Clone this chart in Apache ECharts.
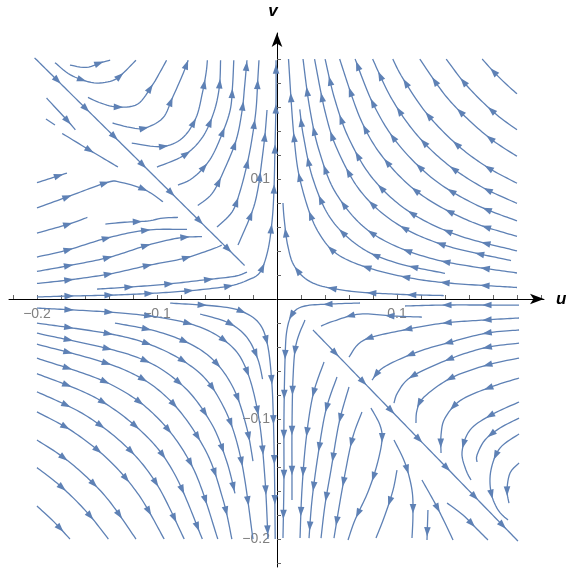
<!DOCTYPE html>
<html><head><meta charset="utf-8">
<script src="https://cdn.jsdelivr.net/npm/echarts@6/dist/echarts.min.js"></script>
<style>html,body{margin:0;padding:0;background:#fff}#c{width:568px;height:571px}</style>
</head><body><div id="c"></div>
<script>
// ---- tick values / labels ----
const xTickValues = [-0.22,-0.2,-0.18,-0.16,-0.14,-0.12,-0.1,-0.08,-0.06,-0.04,-0.02,0.02,0.04,0.06,0.08,0.1,0.12,0.14,0.16,0.18,0.2,0.22];
const yTickValues = [-0.22,-0.2,-0.18,-0.16,-0.14,-0.12,-0.1,-0.08,-0.06,-0.04,-0.02,0.02,0.04,0.06,0.08,0.1,0.12,0.14,0.16,0.18,0.2];
const xLabelValues = [-0.2,-0.1,0.1];
const yLabelValues = [0.1,-0.1,-0.2];

// ---- streamlines (u, v) ----
const streamsTopLeft = [
  [[-0.202,0.201],[-0.1145,0.1145],[-0.027,0.028]],
  [[-0.1725,0.195],[-0.159,0.193],[-0.1467,0.197],[-0.139,0.199]],
  [[-0.185,0.197],[-0.174,0.188],[-0.162,0.1825],[-0.15,0.18],[-0.137,0.182],[-0.129,0.1875],[-0.1175,0.199]],
  [[-0.1575,0.168],[-0.146,0.163],[-0.1325,0.16],[-0.116,0.1625],[-0.104,0.178],[-0.0975,0.189],[-0.092,0.199]],
  [[-0.137,0.1467],[-0.1225,0.143],[-0.11,0.1425],[-0.095,0.151],[-0.087,0.168],[-0.079,0.186],[-0.074,0.199]],
  [[-0.121,0.13],[-0.096,0.127],[-0.079,0.134],[-0.0675,0.151],[-0.062,0.1725],[-0.059,0.189],[-0.058,0.199]],
  [[-0.1,0.11],[-0.077,0.12],[-0.062,0.135],[-0.0525,0.156],[-0.048,0.177],[-0.047,0.199]],
  [[-0.0825,0.095],[-0.07,0.101],[-0.056,0.116],[-0.046,0.137],[-0.039,0.1575],[-0.037,0.178],[-0.036,0.199]],
  [[-0.066,0.078],[-0.054,0.088],[-0.044,0.1075],[-0.034,0.1325],[-0.029,0.1575],[-0.027,0.177],[-0.025,0.199]],
  [[-0.05,0.06],[-0.0375,0.0725],[-0.031,0.089],[-0.025,0.112],[-0.021,0.1325],[-0.0175,0.1575],[-0.016,0.1825],[-0.015,0.199]],
  [[-0.0325,0.045],[-0.021,0.072],[-0.016,0.091],[-0.0125,0.116],[-0.01,0.137],[-0.0083,0.1575]],
  [[-0.2,0.0017],[-0.175,0.0025],[-0.137,0.0033],[-0.1,0.005],[-0.0667,0.0075],[-0.039,0.011],[-0.024,0.016],[-0.014,0.0225],[-0.0075,0.041],[-0.004,0.066],[-0.0025,0.091],[-0.0017,0.124],[-0.0008,0.166],[-0.0008,0.199]],
  [[-0.192,0.1675],[-0.174,0.148],[-0.168,0.141]],
  [[-0.1925,0.15],[-0.185,0.145]],
  [[-0.179,0.138],[-0.156,0.124],[-0.1325,0.11]],
  [[-0.2,0.097],[-0.175,0.105]],
  [[-0.2,0.076],[-0.175,0.085],[-0.142,0.097],[-0.131,0.0975],[-0.11,0.091],[-0.095,0.081]],
  [[-0.2,0.055],[-0.175,0.062],[-0.158,0.068]],
  [[-0.143,0.0625],[-0.127,0.064],[-0.108,0.065],[-0.095,0.0675],[-0.0825,0.068]],
  [[-0.2,0.035],[-0.174,0.041],[-0.141,0.051],[-0.108,0.0575],[-0.075,0.058]],
  [[-0.2,0.023],[-0.1725,0.028],[-0.139,0.035],[-0.1075,0.045],[-0.081,0.051],[-0.0625,0.052]],
  [[-0.2,0.013],[-0.1725,0.016],[-0.139,0.021],[-0.1075,0.028],[-0.077,0.034],[-0.053,0.042],[-0.046,0.045]],
  [[-0.15,0.0083],[-0.1225,0.01],[-0.091,0.0125],[-0.06,0.016],[-0.035,0.019],[-0.025,0.0225]]
];

const streamsTopRight = [
  [[0.2,0.171],[0.19,0.18],[0.18,0.19],[0.171,0.2]],
  [[0.2,0.141],[0.185,0.152],[0.17,0.1655],[0.155,0.1815],[0.141,0.2]],
  [[0.2,0.119],[0.18,0.132],[0.16,0.149],[0.14,0.17],[0.119,0.2]],
  [[0.2,0.0965],[0.175,0.11],[0.15,0.1286],[0.125,0.1543],[0.105,0.1837],[0.0965,0.2]],
  [[0.2,0.0797],[0.17,0.0938],[0.14,0.1139],[0.115,0.1387],[0.095,0.1679],[0.0797,0.2]],
  [[0.2,0.0651],[0.165,0.079],[0.13,0.1002],[0.1,0.1303],[0.08,0.1629],[0.0651,0.2]],
  [[0.2,0.0522],[0.16,0.0652],[0.12,0.087],[0.09,0.116],[0.07,0.1491],[0.0522,0.2]],
  [[0.2,0.0401],[0.15,0.0534],[0.11,0.0729],[0.08,0.1002],[0.06,0.1336],[0.048,0.167],[0.0401,0.2]],
  [[0.195,0.0321],[0.14,0.0447],[0.1,0.0626],[0.07,0.0894],[0.05,0.1252],[0.04,0.1565],[0.0313,0.2]],
  [[0.2,0.0217],[0.13,0.0334],[0.08,0.0543],[0.05,0.0868],[0.035,0.124],[0.027,0.1607],[0.0217,0.2]],
  [[0.2,0.0096],[0.12,0.016],[0.06,0.032],[0.035,0.0549],[0.02,0.096],[0.014,0.137],[0.0096,0.2]],
  [[0.14,0.0214],[0.1,0.03],[0.07,0.0429],[0.045,0.0667],[0.03,0.1],[0.022,0.136],[0.019,0.158]],
  [[0.139,0.0029],[0.1,0.004],[0.06,0.0067],[0.03,0.0133],[0.015,0.0267],[0.009,0.0444],[0.006,0.0667],[0.005,0.08]]
];

const streamsBottomLeft = [
  [[-0.2,-0.1725],[-0.186,-0.1855],[-0.1725,-0.2]],
  [[-0.2,-0.1405],[-0.185,-0.152],[-0.17,-0.1655],[-0.155,-0.1815],[-0.1405,-0.2]],
  [[-0.2,-0.1175],[-0.18,-0.1305],[-0.16,-0.147],[-0.14,-0.168],[-0.1175,-0.2]],
  [[-0.2,-0.094],[-0.17,-0.1105],[-0.14,-0.1343],[-0.115,-0.1635],[-0.094,-0.2]],
  [[-0.2,-0.0773],[-0.16,-0.0966],[-0.125,-0.1236],[-0.1,-0.1545],[-0.0773,-0.2]],
  [[-0.2,-0.0622],[-0.15,-0.0829],[-0.11,-0.1131],[-0.085,-0.1464],[-0.0622,-0.2]],
  [[-0.2,-0.0493],[-0.14,-0.0704],[-0.1,-0.0985],[-0.07,-0.1407],[-0.0493,-0.2]],
  [[-0.2,-0.0376],[-0.13,-0.0578],[-0.09,-0.0836],[-0.06,-0.1253],[-0.045,-0.167],[-0.0376,-0.2]],
  [[-0.2,-0.0284],[-0.12,-0.0473],[-0.08,-0.0709],[-0.055,-0.1031],[-0.042,-0.135],[-0.035,-0.162]],
  [[-0.2,-0.02],[-0.12,-0.0333],[-0.07,-0.0571],[-0.045,-0.0889],[-0.03,-0.1333],[-0.02,-0.2]],
  [[-0.2,-0.0075],[-0.12,-0.0125],[-0.07,-0.0214],[-0.04,-0.0375],[-0.025,-0.06],[-0.015,-0.1],[-0.01,-0.15],[-0.0075,-0.2]],
  [[-0.089,-0.0034],[-0.05,-0.006],[-0.03,-0.01],[-0.015,-0.02],[-0.008,-0.0375],[-0.0045,-0.0667],[-0.003,-0.1],[-0.002,-0.15],[-0.0015,-0.2]],
  [[-0.135,-0.02],[-0.1,-0.027],[-0.07,-0.0386],[-0.05,-0.054],[-0.035,-0.077],[-0.025,-0.108],[-0.02,-0.135]],
  [[-0.064,-0.0125],[-0.04,-0.02],[-0.025,-0.032],[-0.016,-0.05],[-0.012,-0.0667]]
];

const streamsBottomRight = [
  [[0.03,-0.0258],[0.1154,-0.1138],[0.2008,-0.2017]],
  [[0.0692,-0.0033],[0.0442,-0.0042],[0.0233,-0.0058],[0.0133,-0.0117],[0.0083,-0.0258],[0.0067,-0.0508],[0.0058,-0.1008],[0.0058,-0.1508],[0.005,-0.1992]],
  [[0.0233,-0.0175],[0.0158,-0.0383],[0.0133,-0.0675],[0.0125,-0.1092],[0.0125,-0.1425],[0.0125,-0.1675]],
  [[0.0392,-0.0525],[0.03,-0.08],[0.0242,-0.1175],[0.0208,-0.1592],[0.0192,-0.1992]],
  [[0.05,-0.065],[0.0408,-0.0925],[0.0342,-0.13],[0.0292,-0.1675],[0.0267,-0.1992]],
  [[0.06,-0.0733],[0.0517,-0.1033],[0.045,-0.1425],[0.04,-0.1717],[0.0367,-0.1992]],
  [[0.0708,-0.0942],[0.0625,-0.1175],[0.0542,-0.1592],[0.0475,-0.1992]],
  [[0.0783,-0.0908],[0.0858,-0.105],[0.0875,-0.1175],[0.0833,-0.1383],[0.0758,-0.1608],[0.065,-0.1842],[0.0592,-0.2008]],
  [[0.0975,-0.1175],[0.1067,-0.1367],[0.1125,-0.1592],[0.1133,-0.18],[0.1125,-0.1992]],
  [[0.1,-0.1425],[0.0967,-0.1592],[0.09,-0.18],[0.0825,-0.1992]],
  [[0.1208,-0.1508],[0.1325,-0.1717],[0.1408,-0.1883],[0.1467,-0.2008]],
  [[0.1258,-0.1758],[0.125,-0.2008]],
  [[0.1417,-0.17],[0.155,-0.18],[0.165,-0.19],[0.1758,-0.2008]],
  [[0.2017,-0.005],[0.1792,-0.005],[0.14,-0.005],[0.1067,-0.0058]],
  [[0.1208,-0.015],[0.0975,-0.0142],[0.0692,-0.0125],[0.0475,-0.0183],[0.0367,-0.0225]],
  [[0.2017,-0.0158],[0.1725,-0.0175],[0.1392,-0.02],[0.1058,-0.0258],[0.0725,-0.0342],[0.06,-0.0483]],
  [[0.2017,-0.0258],[0.175,-0.0283],[0.145,-0.0358],[0.1167,-0.0442],[0.0892,-0.0567],[0.0792,-0.0675]],
  [[0.2017,-0.0367],[0.1725,-0.0408],[0.1417,-0.0508],[0.1117,-0.065],[0.1008,-0.0775],[0.0975,-0.0867]],
  [[0.2017,-0.0492],[0.175,-0.055],[0.145,-0.0658],[0.1225,-0.0817],[0.1167,-0.0925],[0.1158,-0.1033]],
  [[0.2017,-0.0658],[0.1783,-0.0733],[0.1533,-0.0842],[0.14,-0.0992],[0.1367,-0.1133],[0.1367,-0.1283]],
  [[0.2017,-0.0858],[0.1783,-0.0967],[0.1608,-0.1092],[0.1542,-0.1275],[0.1575,-0.1425],[0.1617,-0.1508]],
  [[0.2017,-0.0992],[0.1858,-0.1075],[0.1733,-0.1175],[0.1667,-0.13],[0.1667,-0.1358]],
  [[0.2017,-0.1125],[0.1858,-0.1242],[0.1783,-0.1425],[0.1783,-0.1608],[0.1842,-0.1758],[0.1925,-0.1842]],
  [[0.2017,-0.1367],[0.1942,-0.145],[0.1917,-0.1592],[0.1933,-0.17]]
];

const allStreams = [].concat(streamsTopLeft, streamsTopRight, streamsBottomLeft, streamsBottomRight);
const STREAM_COLOR = '#5e81b5';

function spline(pts){
  if (pts.length < 3) {
    const out=[pts[0]];
    const a=pts[0], b=pts[pts.length-1];
    const n=Math.max(2, Math.ceil(Math.hypot(b[0]-a[0],b[1]-a[1])/3));
    for(let k=1;k<=n;k++){const t=k/n; out.push([a[0]+(b[0]-a[0])*t, a[1]+(b[1]-a[1])*t]);}
    return out;
  }
  const out=[pts[0]];
  for(let i=0;i<pts.length-1;i++){
    const p0=pts[Math.max(i-1,0)], p1=pts[i], p2=pts[i+1], p3=pts[Math.min(i+2,pts.length-1)];
    const n=Math.max(4, Math.ceil(Math.hypot(p2[0]-p1[0],p2[1]-p1[1])/3));
    for(let k=1;k<=n;k++){
      const t=k/n,t2=t*t,t3=t2*t;
      out.push([0,1].map(d=>0.5*((2*p1[d])+(-p0[d]+p2[d])*t+(2*p0[d]-5*p1[d]+4*p2[d]-p3[d])*t2+(-p0[d]+3*p1[d]-3*p2[d]+p3[d])*t3)));
    }
  }
  return out;
}
function arrowHeads(dense){
  const cum=[0];
  for(let i=1;i<dense.length;i++) cum.push(cum[i-1]+Math.hypot(dense[i][0]-dense[i-1][0],dense[i][1]-dense[i-1][1]));
  const L=cum[cum.length-1];
  const res=[];
  if(L<12) return res;
  const at=(s)=>{
    s=Math.max(0,Math.min(L,s));
    let i=1; while(i<cum.length-1 && cum[i]<s) i++;
    const seg=cum[i]-cum[i-1]||1, t=(s-cum[i-1])/seg;
    return [dense[i-1][0]+(dense[i][0]-dense[i-1][0])*t, dense[i-1][1]+(dense[i][1]-dense[i-1][1])*t];
  };
  const GAP=40;
  let s=Math.min(32, L*0.72);
  while(s<=L-4){
    const p=at(s), a=at(s-3), b=at(s+3);
    let dx=b[0]-a[0], dy=b[1]-a[1]; const m=Math.hypot(dx,dy)||1; dx/=m; dy/=m;
    const nx=-dy, ny=dx;
    const tip=[p[0]+dx*5,p[1]+dy*5], base=[p[0]-dx*4.5,p[1]-dy*4.5];
    res.push([tip,[base[0]+nx*3.3,base[1]+ny*3.3],[base[0]-nx*3.3,base[1]-ny*3.3]]);
    s+=GAP;
  }
  return res;
}

const fmt = v => (v<0?'\u2212':'') + Math.abs(v).toFixed(1);

const chart = echarts.init(document.getElementById('c'), null, {renderer:'canvas'});
chart.setOption({
  animation:false,
  backgroundColor:'#ffffff',
  grid:{left:9,right:24,top:33,bottom:4,containLabel:false,outerBoundsMode:'none'},
  xAxis:{
    type:'value', min:-0.2233, max:0.2225, position:'bottom', offset:-268,
    name:'u', nameLocation:'end', nameGap:12,
    nameTextStyle:{fontSize:17,fontStyle:'italic',fontWeight:'bold',color:'#000',fontFamily:'Liberation Sans',align:'left',verticalAlign:'middle'},
    axisLine:{onZero:false,lineStyle:{color:'#000',width:1},symbol:['none','arrow'],symbolSize:[8,14],symbolOffset:[0,0]},
    axisTick:{show:true,inside:true,length:4,customValues:xTickValues,lineStyle:{color:'#666'}},
    axisLabel:{show:true,customValues:xLabelValues,formatter:fmt,color:'#808080',fontSize:14,fontFamily:'Liberation Sans',margin:8},
    splitLine:{show:false}
  },
  yAxis:{
    type:'value', min:-0.2233, max:0.2217, position:'left', offset:-268,
    name:'v', nameLocation:'end', nameGap:13,
    nameTextStyle:{fontSize:17,fontStyle:'italic',fontWeight:'bold',color:'#000',fontFamily:'Liberation Sans',align:'center',padding:[0,8,0,0]},
    axisLine:{onZero:false,lineStyle:{color:'#000',width:1},symbol:['none','arrow'],symbolSize:[8,14],symbolOffset:[0,0]},
    axisTick:{show:true,inside:true,length:4,customValues:yTickValues,lineStyle:{color:'#666'}},
    axisLabel:{show:true,customValues:yLabelValues,formatter:fmt,color:'#808080',fontSize:14,fontFamily:'Liberation Sans',margin:7},
    splitLine:{show:false}
  },
  series:[{
    type:'custom',
    coordinateSystem:'cartesian2d',
    encode:{x:0,y:1},
    data: allStreams.map((s,i)=>[s[0][0], s[0][1], i]),
    z:5,
    renderItem:(params, api)=>{
      const s = allStreams[api.value(2)];
      const pts = s.map(p=>api.coord(p));
      const dense = spline(pts);
      const children=[{type:'polyline',shape:{points:dense},style:{stroke:STREAM_COLOR,lineWidth:1.3,fill:null},silent:true}];
      arrowHeads(dense).forEach(tri=>children.push({type:'polygon',shape:{points:tri},style:{fill:STREAM_COLOR},silent:true}));
      return {type:'group',children};
    }
  }]
});
</script>
</body></html>
